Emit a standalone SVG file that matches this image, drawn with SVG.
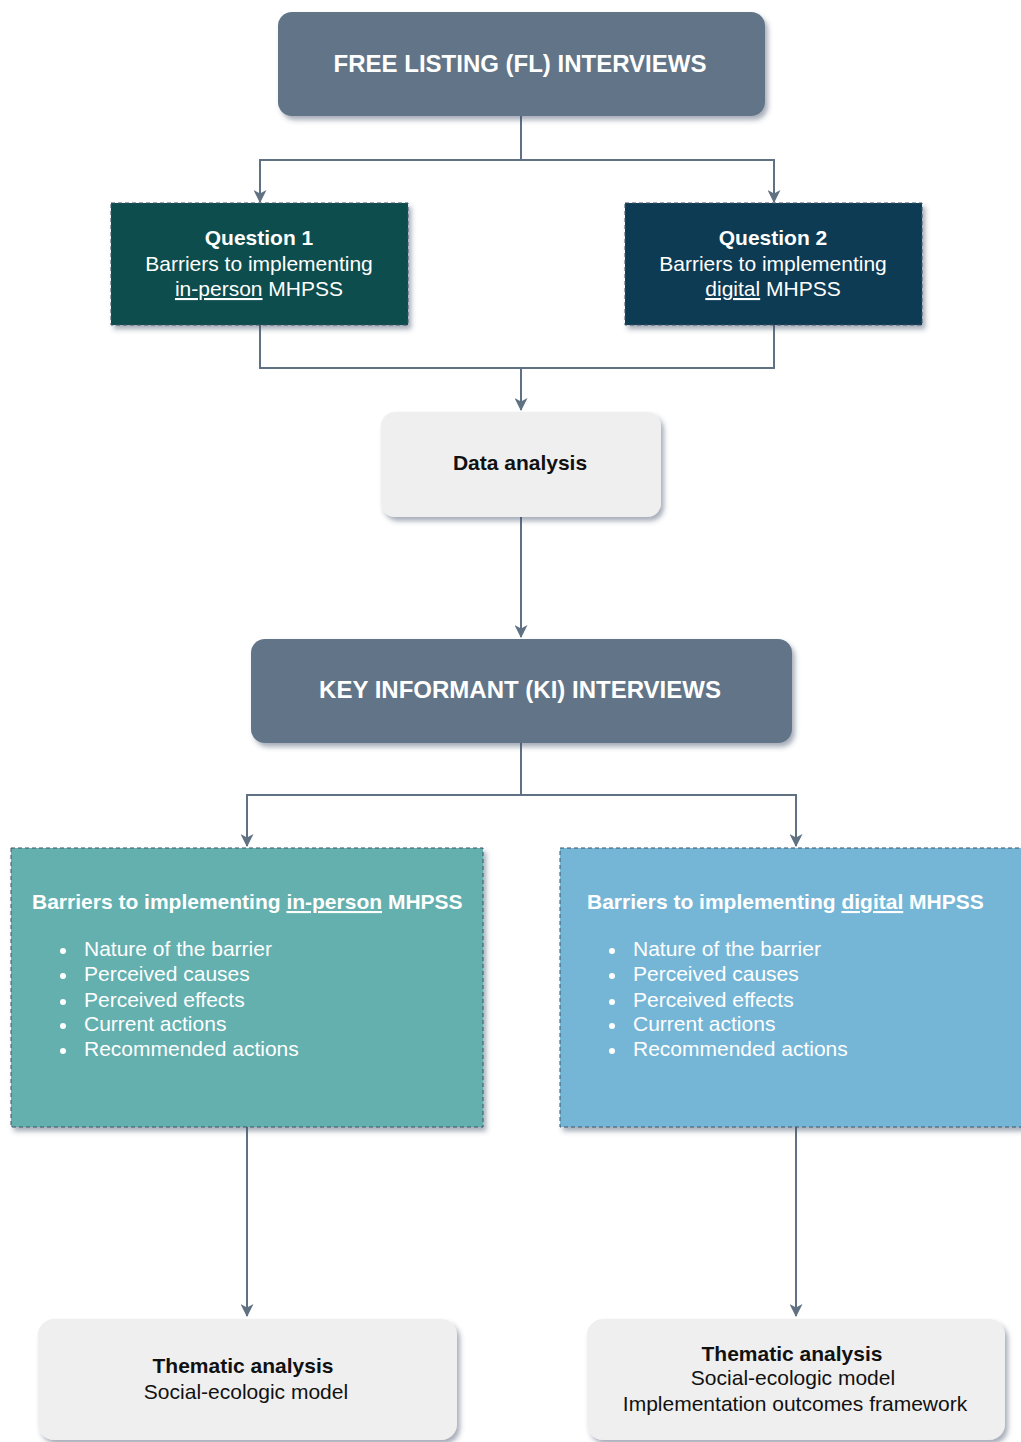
<svg xmlns="http://www.w3.org/2000/svg" width="1021" height="1442" viewBox="0 0 1021 1442">
<style>
text{font-family:"Liberation Sans",Arial,sans-serif;font-size:21px;text-anchor:middle}
.w{fill:#ffffff}.k{fill:#111111}.b{font-weight:bold}
.ttl{font-size:24px;font-weight:bold;fill:#ffffff}
.left{text-anchor:start}
.u{text-decoration:underline}
.con{fill:none;stroke:#5f7183;stroke-width:2}
.dash{stroke:#3e5466;stroke-width:1;stroke-dasharray:4 3}
</style>
<defs>
<filter id="sh" x="-10%" y="-10%" width="125%" height="130%">
<feDropShadow dx="3" dy="4" stdDeviation="2.5" flood-color="#3d4a66" flood-opacity="0.45"/>
</filter>
<marker id="ar" viewBox="0 0 13 13" refX="12" refY="6.5" markerWidth="13" markerHeight="13" markerUnits="userSpaceOnUse" orient="auto">
<path d="M0,0 L13,6.5 L0,13 L3.5,6.5 z" fill="#5f7183"/>
</marker>
</defs>
<g id="connectors">
<path class="con" d="M521,116 V160 H260 V202" marker-end="url(#ar)"/>
<path class="con" d="M521,160 H774 V202" marker-end="url(#ar)"/>
<path class="con" d="M260,325 V368 H774 V325"/>
<path class="con" d="M521,368 V410" marker-end="url(#ar)"/>
<path class="con" d="M521,517 V637" marker-end="url(#ar)"/>
<path class="con" d="M521,743 V795 H247 V846" marker-end="url(#ar)"/>
<path class="con" d="M521,795 H796 V846" marker-end="url(#ar)"/>
<path class="con" d="M247,1127 V1316" marker-end="url(#ar)"/>
<path class="con" d="M796,1127 V1316" marker-end="url(#ar)"/>
</g>
<g id="fl">
<rect x="278" y="12" width="487" height="104" rx="14" fill="#627588" filter="url(#sh)"/>
<text class="ttl" x="520" y="72">FREE LISTING (FL) INTERVIEWS</text>
</g>
<g id="q1">
<rect x="111" y="203" width="297" height="122" fill="#0c4d4e" class="dash" filter="url(#sh)"/>
<text class="w b" x="259" y="245">Question 1</text>
<text class="w" x="259" y="271">Barriers to implementing</text>
<text class="w" x="259" y="296"><tspan class="u">in-person</tspan> MHPSS</text>
</g>
<g id="q2">
<rect x="625" y="203" width="297" height="122" fill="#0c3a53" class="dash" filter="url(#sh)"/>
<text class="w b" x="773" y="245">Question 2</text>
<text class="w" x="773" y="271">Barriers to implementing</text>
<text class="w" x="773" y="296"><tspan class="u">digital</tspan> MHPSS</text>
</g>
<g id="data">
<rect x="381" y="412" width="280" height="105" rx="14" fill="#efefef" filter="url(#sh)"/>
<text class="k b" x="520" y="470">Data analysis</text>
</g>
<g id="ki">
<rect x="251" y="639" width="541" height="104" rx="14" fill="#627588" filter="url(#sh)"/>
<text class="ttl" x="520" y="698">KEY INFORMANT (KI) INTERVIEWS</text>
</g>
<g id="inperson">
<rect x="11" y="848" width="472" height="279" fill="#63b0af" class="dash" filter="url(#sh)"/>
<text class="w b left" x="32" y="909">Barriers to implementing <tspan class="u">in-person</tspan> MHPSS</text>
<g fill="#ffffff">
<circle cx="63" cy="951" r="3"/><circle cx="63" cy="976" r="3"/><circle cx="63" cy="1002" r="3"/><circle cx="63" cy="1026" r="3"/><circle cx="63" cy="1051" r="3"/>
</g>
<text class="w left" x="84" y="956">Nature of the barrier</text>
<text class="w left" x="84" y="981">Perceived causes</text>
<text class="w left" x="84" y="1007">Perceived effects</text>
<text class="w left" x="84" y="1031">Current actions</text>
<text class="w left" x="84" y="1056">Recommended actions</text>
</g>
<g id="digital">
<rect x="560" y="848" width="470" height="279" fill="#75b6d7" class="dash" filter="url(#sh)"/>
<text class="w b left" x="587" y="909">Barriers to implementing <tspan class="u">digital</tspan> MHPSS</text>
<g fill="#ffffff">
<circle cx="612" cy="951" r="3"/><circle cx="612" cy="976" r="3"/><circle cx="612" cy="1002" r="3"/><circle cx="612" cy="1026" r="3"/><circle cx="612" cy="1051" r="3"/>
</g>
<text class="w left" x="633" y="956">Nature of the barrier</text>
<text class="w left" x="633" y="981">Perceived causes</text>
<text class="w left" x="633" y="1007">Perceived effects</text>
<text class="w left" x="633" y="1031">Current actions</text>
<text class="w left" x="633" y="1056">Recommended actions</text>
</g>
<g id="thematic1">
<rect x="38" y="1319" width="419" height="121" rx="16" fill="#efefef" filter="url(#sh)"/>
<text class="k b" x="243" y="1373">Thematic analysis</text>
<text class="k" x="246" y="1399">Social-ecologic model</text>
</g>
<g id="thematic2">
<rect x="587" y="1319" width="418" height="121" rx="16" fill="#efefef" filter="url(#sh)"/>
<text class="k b" x="792" y="1361">Thematic analysis</text>
<text class="k" x="793" y="1385">Social-ecologic model</text>
<text class="k" x="795" y="1411">Implementation outcomes framework</text>
</g>
</svg>
